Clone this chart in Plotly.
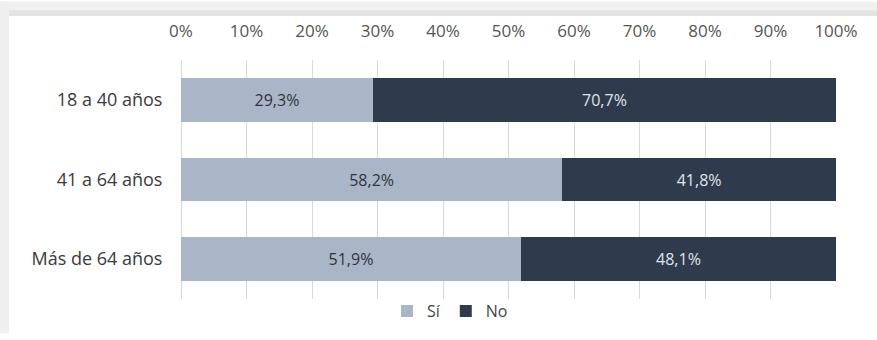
import plotly.graph_objects as go

categories = ["18 a 40 años", "41 a 64 años", "Más de 64 años"]
si_values = [29.3, 58.2, 51.9]
no_values = [70.7, 41.8, 48.1]
series_names = ["Sí", "No"]
tick_values = [0, 10, 20, 30, 40, 50, 60, 70, 80, 90, 100]
tick_labels = ["0%", "10%", "20%", "30%", "40%", "50%", "60%", "70%", "80%", "90%", "100%"]

def fmt(v):
    return f"{v:.1f}".replace(".", ",") + "%"

W, H = 877, 340
L, R, T, B = 181, 41, 60, 35
pw, ph = W - L - R, H - T - B

def px_x(x):
    return (x - L) / pw

def px_y(y):
    return 1 - (y - T) / ph

font_family = "Open Sans, Noto Sans, sans-serif"

fig = go.Figure()
fig.add_trace(go.Bar(
    y=categories, x=si_values, name=series_names[0], orientation="h",
    marker=dict(color="#aab6c7", line=dict(width=0)),
    text=[fmt(v) for v in si_values], textposition="inside", insidetextanchor="middle",
    textfont=dict(color="#2f343c", size=16, family=font_family),
))
fig.add_trace(go.Bar(
    y=categories, x=no_values, name=series_names[1], orientation="h",
    marker=dict(color="#2f3b4d", line=dict(width=0)),
    text=[fmt(v) for v in no_values], textposition="inside", insidetextanchor="middle",
    textfont=dict(color="#dfe4ea", size=16, family=font_family),
))

shapes = [
    dict(type="rect", xref="paper", yref="paper", x0=px_x(0), x1=px_x(W), y0=px_y(15), y1=px_y(0),
         fillcolor="#f0f0f0", line=dict(width=0), layer="below"),
    dict(type="rect", xref="paper", yref="paper", x0=px_x(0), x1=px_x(W), y0=px_y(15), y1=px_y(9),
         fillcolor="#e3e3e3", line=dict(width=0), layer="below"),
    dict(type="rect", xref="paper", yref="paper", x0=px_x(0), x1=px_x(9), y0=px_y(H), y1=px_y(0),
         fillcolor="#efefef", line=dict(width=0), layer="below"),
]

fig.update_layout(
    width=W, height=H,
    barmode="stack", bargap=0.45,
    margin=dict(l=L, r=R, t=T, b=B),
    paper_bgcolor="white", plot_bgcolor="white",
    font=dict(family=font_family, size=15, color="#444444"),
    shapes=shapes,
    showlegend=True,
    legend=dict(orientation="h", x=px_x(450), xanchor="center", y=px_y(300), yanchor="top",
                font=dict(size=16, color="#444444"), traceorder="normal",
                itemwidth=30, tracegroupgap=0, bgcolor="rgba(0,0,0,0)"),
    uniformtext=dict(minsize=12, mode="show"),
)
fig.update_xaxes(
    range=[0, 100], side="top", tickmode="array", tickvals=tick_values, ticktext=tick_labels,
    showgrid=True, gridcolor="#d9d9d9", gridwidth=1, zeroline=True, zerolinecolor="#d9d9d9",
    zerolinewidth=1, showline=False, ticks="outside", ticklen=15, tickcolor="rgba(0,0,0,0)",
    tickfont=dict(size=17, color="#555555"), fixedrange=True,
)
fig.update_yaxes(
    categoryorder="array", categoryarray=categories, autorange="reversed",
    showgrid=False, zeroline=False, showline=False, ticks="outside", ticklen=14,
    tickcolor="rgba(0,0,0,0)", tickfont=dict(size=18, color="#3a3a3a"), fixedrange=True,
)

fig.write_html("out.html", config={"displayModeBar": False},
               post_script="document.body.style.margin='0';document.body.style.overflow='hidden';")
